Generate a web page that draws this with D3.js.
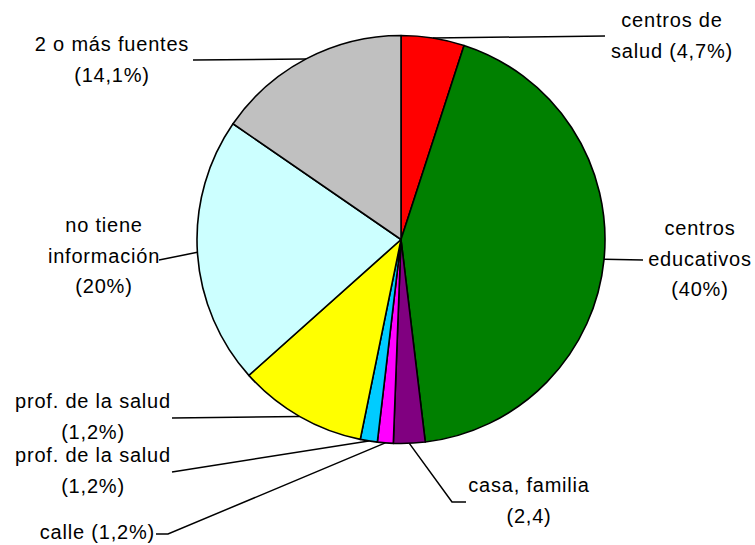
<!DOCTYPE html>
<html>
<head>
<meta charset="utf-8">
<script src="https://cdn.jsdelivr.net/npm/d3@7"></script>
<style>
  body { margin: 0; background: #fff; }
  text { font-family: "Liberation Sans", Arial, sans-serif; font-size: 20px; letter-spacing: 0.8px; fill: #000; }
</style>
</head>
<body>
<div id="chart"></div>
<script>
// slice data, clockwise from 12 o'clock
var categories = ["centros de salud", "centros educativos", "casa, familia", "calle",
    "prof. de la salud 2", "prof. de la salud 1", "no tiene información", "2 o más fuentes"];
var values = [5.0, 43.1, 2.5, 1.25, 1.35, 10.2, 21.2, 15.4];
var colors = ["#ff0000", "#008000", "#800080", "#ff00ff", "#00ccff", "#ffff00", "#ccffff", "#c0c0c0"];

// label text, as printed on the chart
var labelLines = [
    ["centros de", "salud (4,7%)"],
    ["centros", "educativos", "(40%)"],
    ["casa, familia", "(2,4)"],
    ["calle (1,2%)"],
    ["prof. de la salud", "(1,2%)"],
    ["prof. de la salud", "(1,2%)"],
    ["no tiene", "información", "(20%)"],
    ["2 o más fuentes", "(14,1%)"]
];

// layout for labels and leader lines (not data)
var labelLayout = [
    {x: 672, y: 27, anchor: "middle", lead: [[605, 36]]},
    {x: 700, y: 235, anchor: "middle", lead: [[643, 260]]},
    {x: 529, y: 492, anchor: "middle", lead: [[452, 502], [466, 502]]},
    {x: 155, y: 539, anchor: "end", lead: [[168, 534], [156, 534]]},
    {x: 93, y: 462, anchor: "middle", lead: [[172, 472]]},
    {x: 93, y: 408, anchor: "middle", lead: [[172, 418]]},
    {x: 104, y: 232, anchor: "middle", lead: [[159, 260]]},
    {x: 112, y: 51, anchor: "middle", lead: [[193, 60]]}
];

var width = 755, height = 545;
var cx = 401, cy = 239.5, radius = 204;
var lineHeight = 30.5;

var svg = d3.select("#chart").append("svg")
    .attr("width", width)
    .attr("height", height);

var g = svg.append("g").attr("transform", "translate(" + cx + "," + cy + ")");

var pie = d3.pie().sort(null).value(function(d) { return d; });
var arcs = pie(values);
var arc = d3.arc().innerRadius(0).outerRadius(radius);

g.selectAll("path.slice")
    .data(arcs)
    .enter().append("path")
    .attr("class", "slice")
    .attr("d", arc)
    .attr("fill", function(d, i) { return colors[i]; })
    .attr("stroke", "#000")
    .attr("stroke-width", 1.6)
    .attr("stroke-linejoin", "round");

// leader lines start at the middle of each slice's arc
var line = d3.line();
svg.selectAll("path.leader")
    .data(arcs)
    .enter().append("path")
    .attr("class", "leader")
    .attr("d", function(d, i) {
        var a = (d.startAngle + d.endAngle) / 2;
        var start = [cx + radius * Math.sin(a), cy - radius * Math.cos(a)];
        return line([start].concat(labelLayout[i].lead));
    })
    .attr("fill", "none")
    .attr("stroke", "#000")
    .attr("stroke-width", 1.5);

var labels = svg.selectAll("text.label")
    .data(labelLines)
    .enter().append("text")
    .attr("class", "label")
    .attr("text-anchor", function(d, i) { return labelLayout[i].anchor; });

labels.each(function(d, i) {
    var lay = labelLayout[i];
    d3.select(this).selectAll("tspan")
        .data(d)
        .enter().append("tspan")
        .attr("x", lay.x)
        .attr("y", function(t, j) { return lay.y + j * lineHeight; })
        .text(function(t) { return t; });
});
</script>
</body>
</html>
